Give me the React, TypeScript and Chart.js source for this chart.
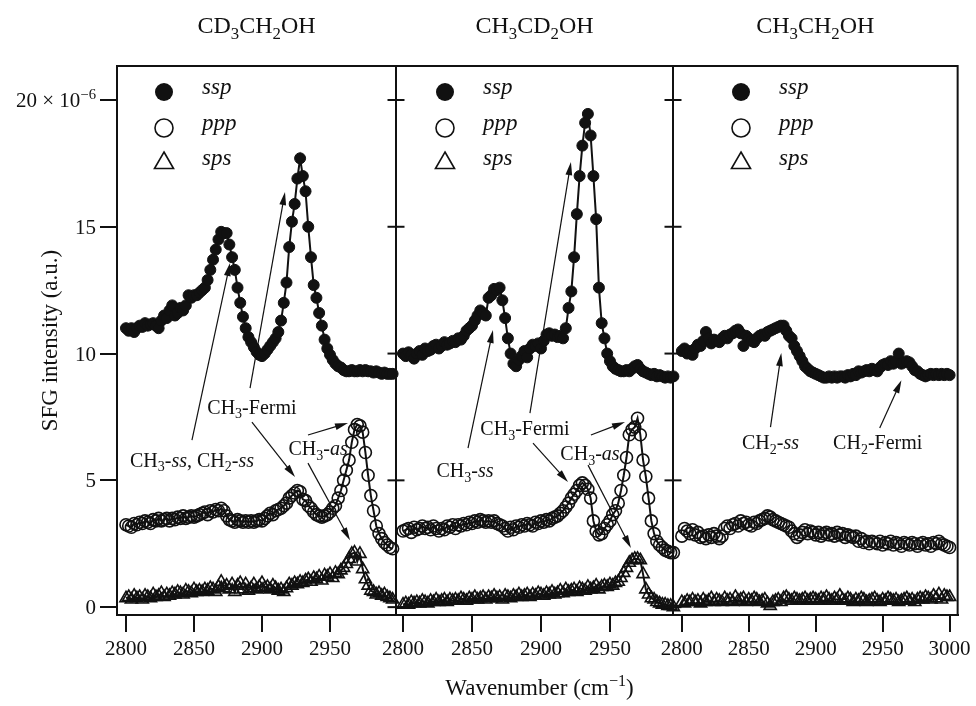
import React, { useEffect, useRef } from 'react';
import { Chart, registerables } from 'chart.js';
Chart.register(...registerables);

// ---------------- data ----------------
const WN_A = [
  2800, 2802, 2804, 2806, 2808, 2810, 2812, 2814, 2816, 2818,
  2820, 2822, 2824, 2826, 2828, 2830, 2832, 2834, 2836, 2838,
  2840, 2842, 2844, 2846, 2848, 2850, 2852, 2854, 2856, 2858,
  2860, 2862, 2864, 2866, 2868, 2870, 2872, 2874, 2876, 2878,
  2880, 2882, 2884, 2886, 2888, 2890, 2892, 2894, 2896, 2898,
  2900, 2902, 2904, 2906, 2908, 2910, 2912, 2914, 2916, 2918,
  2920, 2922, 2924, 2926, 2928, 2930, 2932, 2934, 2936, 2938,
  2940, 2942, 2944, 2946, 2948, 2950, 2952, 2954, 2956, 2958,
  2960, 2962, 2964, 2966, 2968, 2970, 2972, 2974, 2976, 2978,
  2980, 2982, 2984, 2986, 2988, 2990, 2992, 2994, 2996,
];
const WN_B = [...WN_A, 2998, 3000];

// CD3CH2OH
const P1_SSP = [
  11.0, 10.9, 11.0, 10.85, 11.0, 11.1, 11.05, 11.2, 11.1, 11.15,
  11.2, 11.1, 11.0, 11.3, 11.5, 11.4, 11.7, 11.9, 11.5, 11.6,
  11.8, 11.7, 11.9, 12.3, 12.2, 12.3, 12.3, 12.4, 12.5, 12.6,
  12.9, 13.3, 13.7, 14.1, 14.5, 14.8, 14.75, 14.75, 14.3, 13.8,
  13.3, 12.6, 12.0, 11.45, 11.0, 10.65, 10.45, 10.25, 10.07, 9.95,
  9.9, 10.0, 10.15, 10.3, 10.45, 10.6, 10.85, 11.3, 12.0, 12.8,
  14.2, 15.2, 15.9, 16.9, 17.7, 17.0, 16.4, 15.0, 13.8, 12.7,
  12.2, 11.6, 11.1, 10.55, 10.2, 9.95, 9.75, 9.6, 9.5, 9.45,
  9.35, 9.3, 9.3, 9.35, 9.3, 9.3, 9.35, 9.3, 9.35, 9.3,
  9.3, 9.25, 9.3, 9.25, 9.2, 9.25, 9.2, 9.2, 9.2,
];
const P1_PPP = [
  3.25, 3.2, 3.15, 3.3, 3.25, 3.35, 3.3, 3.4, 3.35, 3.3,
  3.45, 3.4, 3.5, 3.4, 3.45, 3.5, 3.4, 3.5, 3.45, 3.55,
  3.5, 3.6, 3.5, 3.55, 3.6, 3.55, 3.6, 3.65, 3.7, 3.75,
  3.65, 3.8, 3.75, 3.85, 3.8, 3.9, 3.8, 3.6, 3.45, 3.4,
  3.35, 3.45, 3.4, 3.35, 3.4, 3.35, 3.4, 3.35, 3.4, 3.45,
  3.4, 3.5, 3.6, 3.7, 3.65, 3.8, 3.85, 3.9, 4.0, 4.1,
  4.3, 4.4, 4.5, 4.6, 4.55, 4.25, 4.2, 4.0, 3.9, 3.75,
  3.65, 3.6, 3.55, 3.6, 3.65, 3.75, 3.9, 4.0, 4.3, 4.6,
  5.0, 5.4, 5.8, 6.5, 7.0, 7.2, 7.15, 6.9, 6.1, 5.2,
  4.4, 3.8, 3.2, 2.9, 2.7, 2.55, 2.45, 2.35, 2.3,
];
const P1_SPS = [
  0.35, 0.4, 0.3, 0.45, 0.35, 0.4, 0.3, 0.45, 0.4, 0.35,
  0.5, 0.4, 0.45, 0.55, 0.4, 0.5, 0.45, 0.55, 0.5, 0.6,
  0.55, 0.5, 0.65, 0.6, 0.55, 0.7, 0.6, 0.65, 0.6, 0.7,
  0.65, 0.75, 0.7, 0.6, 0.8, 1.0, 0.75, 0.85, 0.7, 0.9,
  0.6, 0.85, 0.95, 0.7, 0.9, 0.65, 0.75, 0.9, 0.7, 0.8,
  0.95, 0.75, 0.8, 0.7, 0.85, 0.75, 0.65, 0.7, 0.6, 0.75,
  0.9, 0.85, 0.95, 0.9, 1.0, 0.95, 1.05, 1.1, 1.0, 1.15,
  1.1, 1.2, 1.05, 1.25, 1.2, 1.3, 1.15, 1.35, 1.3, 1.45,
  1.55, 1.7, 1.9, 2.1, 2.15, 1.8, 2.1, 1.5, 1.1, 0.85,
  0.65, 0.6, 0.5, 0.55, 0.45, 0.5, 0.4, 0.35, 0.3,
];

// CH3CD2OH
const P2_SSP = [
  10.0, 9.9, 10.05, 9.95, 9.8, 10.0, 10.1, 9.95, 10.2, 10.1,
  10.15, 10.3, 10.35, 10.2, 10.3, 10.45, 10.35, 10.4, 10.5, 10.45,
  10.6, 10.55, 10.7, 10.9, 11.0, 11.1, 11.3, 11.5, 11.7, 11.6,
  11.5, 12.2, 12.3, 12.55, 12.5, 12.6, 12.1, 11.4, 10.6, 10.0,
  9.6, 9.5, 9.75, 9.9, 10.1, 9.85, 10.2, 10.35, 10.3, 10.4,
  10.2, 10.5, 10.75, 10.8, 10.7, 10.75, 10.65, 10.7, 10.6, 11.0,
  11.8, 12.45, 13.8, 15.5, 17.0, 18.2, 19.1, 19.45, 18.6, 17.0,
  15.3, 12.6, 11.2, 10.6, 10.0, 9.7, 9.5, 9.4, 9.35, 9.3,
  9.3, 9.35, 9.3, 9.4, 9.5, 9.55, 9.4, 9.3, 9.25, 9.2,
  9.15, 9.2, 9.1, 9.15, 9.1, 9.05, 9.1, 9.05, 9.1,
];
const P2_PPP = [
  3.0, 3.05, 3.1, 2.95, 3.15, 3.05, 3.1, 3.2, 3.1, 3.15,
  3.05, 3.2, 3.1, 3.0, 3.1, 3.05, 3.2, 3.15, 3.25, 3.1,
  3.25, 3.2, 3.3, 3.25, 3.35, 3.3, 3.4, 3.35, 3.45, 3.4,
  3.35, 3.4, 3.35, 3.4, 3.3, 3.25, 3.2, 3.1, 3.0, 3.15,
  3.05, 3.2, 3.15, 3.25, 3.2, 3.3, 3.25, 3.2, 3.35, 3.3,
  3.4, 3.35, 3.45, 3.4, 3.5, 3.55, 3.6, 3.7, 3.8, 3.95,
  4.1, 4.3, 4.45, 4.6, 4.8, 4.9, 4.8, 4.65, 4.3, 3.4,
  3.0, 2.85, 2.9, 3.1, 3.25, 3.4, 3.65, 3.8, 4.1, 4.6,
  5.2, 5.9, 6.8, 7.0, 7.1, 7.45, 6.8, 5.8, 5.15, 4.3,
  3.4, 2.9, 2.6, 2.45, 2.35, 2.25, 2.2, 2.15, 2.15,
];
const P2_SPS = [
  0.1, 0.15, 0.1, 0.2, 0.15, 0.2, 0.15, 0.25, 0.2, 0.15,
  0.25, 0.2, 0.3, 0.2, 0.25, 0.3, 0.2, 0.3, 0.25, 0.3,
  0.25, 0.35, 0.3, 0.25, 0.35, 0.3, 0.4, 0.3, 0.35, 0.4,
  0.3, 0.4, 0.35, 0.45, 0.35, 0.4, 0.3, 0.45, 0.4, 0.35,
  0.45, 0.4, 0.5, 0.4, 0.45, 0.5, 0.4, 0.5, 0.45, 0.55,
  0.5, 0.45, 0.55, 0.5, 0.6, 0.5, 0.55, 0.65, 0.55, 0.7,
  0.6, 0.65, 0.7, 0.6, 0.75, 0.7, 0.65, 0.8, 0.7, 0.75,
  0.85, 0.7, 0.8, 0.85, 0.8, 0.9, 0.85, 0.95, 1.0, 1.15,
  1.35, 1.55, 1.75, 1.85, 1.9, 1.9, 1.85, 1.3, 0.7, 0.5,
  0.35, 0.3, 0.2, 0.15, 0.1, 0.1, 0.05, 0.05, 0.0,
];

// CH3CH2OH
const P3_SSP = [
  10.1, 10.2, 10.0, 10.1, 9.95, 10.2, 10.35, 10.3, 10.5, 10.85,
  10.6, 10.4, 10.55, 10.5, 10.45, 10.6, 10.7, 10.6, 10.75, 10.8,
  10.9, 10.95, 10.8, 10.3, 10.7, 10.6, 10.5, 10.45, 10.6, 10.7,
  10.75, 10.7, 10.85, 10.9, 10.95, 11.0, 11.05, 11.1, 11.1, 10.9,
  10.7, 10.6, 10.3, 10.1, 9.9, 9.7, 9.5, 9.4, 9.3, 9.25,
  9.2, 9.15, 9.1, 9.05, 9.05, 9.1, 9.05, 9.1, 9.05, 9.1,
  9.1, 9.05, 9.15, 9.1, 9.2, 9.15, 9.3, 9.25, 9.3, 9.35,
  9.3, 9.4, 9.35, 9.3, 9.45, 9.55, 9.6, 9.55, 9.7, 9.6,
  9.7, 10.0, 9.6, 9.65, 9.7, 9.65, 9.5, 9.35, 9.3, 9.2,
  9.15, 9.1, 9.15, 9.2, 9.15, 9.2, 9.15, 9.2, 9.15, 9.2,
  9.15,
];
const P3_PPP = [
  2.8, 3.1, 3.0, 2.9, 3.05, 2.85, 2.95, 2.75, 2.8, 2.7,
  2.85, 2.75, 2.9, 2.8, 2.7, 2.8, 3.1, 3.2, 3.1, 3.25,
  3.3, 3.2, 3.4, 3.3, 3.35, 3.25, 3.2, 3.35, 3.3, 3.4,
  3.45, 3.5, 3.6, 3.55, 3.45, 3.4, 3.35, 3.3, 3.25, 3.2,
  3.15, 3.0, 2.9, 2.75, 2.85, 2.95, 3.05, 2.9, 3.0, 2.95,
  2.85, 2.95, 2.8, 2.9, 2.95, 2.85, 2.9, 2.8, 2.95, 2.85,
  2.9, 2.75, 2.85, 2.8, 2.75, 2.8, 2.6, 2.7, 2.55, 2.6,
  2.5, 2.6, 2.55, 2.5, 2.6, 2.45, 2.55, 2.5, 2.6, 2.45,
  2.55, 2.5, 2.4, 2.55, 2.5, 2.45, 2.55, 2.5, 2.4, 2.5,
  2.55, 2.45, 2.5, 2.4, 2.55, 2.5, 2.6, 2.5, 2.45, 2.4,
  2.35,
];
const P3_SPS = [
  0.2, 0.15, 0.25, 0.2, 0.3, 0.2, 0.25, 0.15, 0.3, 0.2,
  0.25, 0.35, 0.2, 0.3, 0.25, 0.2, 0.35, 0.25, 0.3, 0.2,
  0.4, 0.25, 0.3, 0.35, 0.2, 0.3, 0.25, 0.35, 0.3, 0.2,
  0.25, 0.3, 0.15, 0.05, 0.2, 0.25, 0.3, 0.2, 0.35, 0.4,
  0.3, 0.25, 0.35, 0.3, 0.25, 0.3, 0.35, 0.25, 0.3, 0.35,
  0.3, 0.25, 0.35, 0.3, 0.4, 0.3, 0.25, 0.35, 0.3, 0.45,
  0.3, 0.25, 0.35, 0.3, 0.2, 0.3, 0.25, 0.35, 0.3, 0.2,
  0.25, 0.3, 0.35, 0.25, 0.2, 0.3, 0.25, 0.35, 0.3, 0.25,
  0.3, 0.2, 0.25, 0.3, 0.35, 0.25, 0.3, 0.2, 0.3, 0.35,
  0.3, 0.4, 0.35, 0.3, 0.45, 0.35, 0.5, 0.3, 0.45, 0.4,
  0.4,
];

const SERIES_LABELS = ['ssp', 'ppp', 'sps'];
const X_TICKS = [2800, 2850, 2900, 2950, 3000];
const Y_TICKS = [0, 5, 10, 15, 20];
const Y_TICK_LABELS = ['0', '5', '10', '15', '20 × 10'];
const Y_TICK_TOP_EXP = '−6';
const X_RANGES = [[2793.4, 2998.5], [2794.9, 2995.7], [2793.4, 3006.0]];
const Y_RANGE = [-0.31, 21.34];

type Seg = { t: string; sub?: boolean; sup?: boolean; it?: boolean };

const TITLES: Seg[][] = [
  [{ t: 'CD' }, { t: '3', sub: true }, { t: 'CH' }, { t: '2', sub: true }, { t: 'OH' }],
  [{ t: 'CH' }, { t: '3', sub: true }, { t: 'CD' }, { t: '2', sub: true }, { t: 'OH' }],
  [{ t: 'CH' }, { t: '3', sub: true }, { t: 'CH' }, { t: '2', sub: true }, { t: 'OH' }],
];
const X_TITLE: Seg[] = [{ t: 'Wavenumber (cm' }, { t: '−1', sup: true }, { t: ')' }];
const Y_TITLE: Seg[] = [{ t: 'SFG intensity (a.u.)' }];

// annotation labels: [wavenumber, value, text]
const LABELS: { x: number; y: number; segs: Seg[] }[][] = [
  [
    { x: 2848.5, y: 5.8, segs: [{ t: 'CH' }, { t: '3', sub: true }, { t: '-' }, { t: 'ss', it: true }, { t: ', CH' }, { t: '2', sub: true }, { t: '-' }, { t: 'ss', it: true }] },
    { x: 2892.6, y: 7.89, segs: [{ t: 'CH' }, { t: '3', sub: true }, { t: '-Fermi' }] },
    { x: 2941.2, y: 6.27, segs: [{ t: 'CH' }, { t: '3', sub: true }, { t: '-' }, { t: 'as', it: true }] },
  ],
  [
    { x: 2844.9, y: 5.4, segs: [{ t: 'CH' }, { t: '3', sub: true }, { t: '-' }, { t: 'ss', it: true }] },
    { x: 2888.4, y: 7.06, segs: [{ t: 'CH' }, { t: '3', sub: true }, { t: '-Fermi' }] },
    { x: 2935.5, y: 6.07, segs: [{ t: 'CH' }, { t: '3', sub: true }, { t: '-' }, { t: 'as', it: true }] },
  ],
  [
    { x: 2866.2, y: 6.5, segs: [{ t: 'CH' }, { t: '2', sub: true }, { t: '-' }, { t: 'ss', it: true }] },
    { x: 2946.3, y: 6.5, segs: [{ t: 'CH' }, { t: '2', sub: true }, { t: '-Fermi' }] },
  ],
];
// arrows: [tail wn, tail value, head wn, head value]
const ARROWS: number[][][] = [
  [
    [2848.5, 6.59, 2876.5, 13.57],
    [2891.2, 8.64, 2916.9, 16.37],
    [2892.6, 7.3, 2924.3, 5.13],
    [2933.8, 6.79, 2963.2, 7.26],
    [2933.8, 5.68, 2964.7, 2.64],
  ],
  [
    [2847.1, 6.27, 2865.2, 10.93],
    [2892.0, 7.65, 2921.7, 17.55],
    [2894.2, 6.47, 2919.6, 4.93],
    [2936.2, 6.79, 2960.9, 7.3],
    [2934.1, 5.6, 2965.2, 2.33],
  ],
  [
    [2866.2, 7.1, 2874.3, 10.02],
    [2947.8, 7.06, 2964.0, 8.95],
  ],
];

// ---------------- layout ----------------
const W = 976;
const H = 706;
const PANEL_LEFT = [117, 396, 673];
const PANEL_RIGHT = [396, 673, 962];
const PLOT_TOP = 66;
const PLOT_BOTTOM = 615;
const LEGEND_SYM_DX = [47, 49, 68];
const LEGEND_ROWS_DY = [26, 62, 97];
const FONT = '"Liberation Serif", "Times New Roman", Times, serif';
const INK = '#111';

function drawRich(ctx: CanvasRenderingContext2D, segs: Seg[], x: number, baseline: number, size: number, align: 'left' | 'center' | 'right') {
  const parts = segs.map((s) => {
    const sz = s.sub || s.sup ? size * 0.7 : size;
    const font = `${s.it ? 'italic ' : ''}${sz}px ${FONT}`;
    ctx.font = font;
    return { s, font, w: ctx.measureText(s.t).width };
  });
  const total = parts.reduce((a, p) => a + p.w, 0);
  let cx = align === 'center' ? x - total / 2 : align === 'right' ? x - total : x;
  ctx.textAlign = 'left';
  ctx.textBaseline = 'alphabetic';
  for (const p of parts) {
    ctx.font = p.font;
    const dy = p.s.sub ? size * 0.24 : p.s.sup ? -size * 0.4 : 0;
    ctx.fillText(p.s.t, cx, baseline + dy);
    cx += p.w;
  }
}

function drawArrow(ctx: CanvasRenderingContext2D, x1: number, y1: number, x2: number, y2: number) {
  const ang = Math.atan2(y2 - y1, x2 - x1);
  const L = 13;
  const hw = 3.4;
  const bx = x2 - L * Math.cos(ang);
  const by = y2 - L * Math.sin(ang);
  ctx.beginPath();
  ctx.moveTo(x1, y1);
  ctx.lineTo(bx + 2 * Math.cos(ang), by + 2 * Math.sin(ang));
  ctx.stroke();
  ctx.beginPath();
  ctx.moveTo(x2, y2);
  ctx.lineTo(bx + hw * Math.sin(ang), by - hw * Math.cos(ang));
  ctx.lineTo(bx - hw * Math.sin(ang), by + hw * Math.cos(ang));
  ctx.closePath();
  ctx.fill();
}

function drawSymbol(ctx: CanvasRenderingContext2D, kind: number, x: number, y: number) {
  ctx.beginPath();
  if (kind === 2) {
    const r = 11;
    ctx.moveTo(x, y - r);
    ctx.lineTo(x + r * 0.866, y + r * 0.5);
    ctx.lineTo(x - r * 0.866, y + r * 0.5);
    ctx.closePath();
    ctx.lineWidth = 1.6;
    ctx.stroke();
  } else {
    ctx.arc(x, y, 9, 0, Math.PI * 2);
    if (kind === 0) ctx.fill();
    else {
      ctx.lineWidth = 1.6;
      ctx.stroke();
    }
  }
}

function makeOverlay(idx: number) {
  return {
    id: 'overlay' + idx,
    afterDraw(chart: any) {
      const ctx: CanvasRenderingContext2D = chart.ctx;
      const a = chart.chartArea;
      const xs = chart.scales.x;
      const ys = chart.scales.y;
      ctx.save();
      ctx.strokeStyle = INK;
      ctx.fillStyle = INK;
      ctx.lineWidth = 2;
      ctx.strokeRect(a.left, a.top, a.right - a.left, a.bottom - a.top);
      if (idx < 2) {
        for (const v of Y_TICKS) {
          const y = ys.getPixelForValue(v);
          ctx.beginPath();
          ctx.moveTo(a.right - 8.5, y);
          ctx.lineTo(a.right + 8.5, y);
          ctx.stroke();
        }
      }
      // legend
      for (let k = 0; k < 3; k++) {
        const sx = a.left + LEGEND_SYM_DX[idx];
        const sy = a.top + LEGEND_ROWS_DY[k];
        drawSymbol(ctx, k, sx, sy);
        ctx.font = `italic 23px ${FONT}`;
        ctx.textAlign = 'left';
        ctx.textBaseline = 'alphabetic';
        ctx.fillText(chart.data.datasets[k].label, sx + 38, sy + 2);
      }
      // annotations
      ctx.lineWidth = 1.2;
      for (const [x1, y1, x2, y2] of ARROWS[idx]) {
        drawArrow(ctx, xs.getPixelForValue(x1), ys.getPixelForValue(y1), xs.getPixelForValue(x2), ys.getPixelForValue(y2));
      }
      for (const l of LABELS[idx]) {
        drawRich(ctx, l.segs, xs.getPixelForValue(l.x), ys.getPixelForValue(l.y) + 6.6, 20, 'center');
      }
      // panel title
      drawRich(ctx, TITLES[idx], (a.left + a.right) / 2, 33, 24, 'center');
      if (idx === 0) {
        // y tick labels
        for (let i = 0; i < Y_TICKS.length; i++) {
          const y = ys.getPixelForValue(Y_TICKS[i]);
          const segs: Seg[] = i === Y_TICKS.length - 1
            ? [{ t: Y_TICK_LABELS[i] }, { t: Y_TICK_TOP_EXP, sup: true }]
            : [{ t: Y_TICK_LABELS[i] }];
          drawRich(ctx, segs, a.left - 21, y + 7, 21, 'right');
        }
        // y title
        ctx.save();
        ctx.translate(57, (a.top + a.bottom) / 2);
        ctx.rotate(-Math.PI / 2);
        drawRich(ctx, Y_TITLE, 0, 0, 23, 'center');
        ctx.restore();
      }
      if (idx === 1) {
        drawRich(ctx, X_TITLE, (PANEL_LEFT[0] + PANEL_RIGHT[2]) / 2, 695, 23, 'center');
      }
      ctx.restore();
    },
  };
}

const SERIES = [
  [P1_SSP, P1_PPP, P1_SPS],
  [P2_SSP, P2_PPP, P2_SPS],
  [P3_SSP, P3_PPP, P3_SPS],
];
const GRIDS = [WN_A, WN_A, WN_B];

function Panel({ idx }: { idx: number }) {
  const ref = useRef<HTMLCanvasElement>(null);
  useEffect(() => {
    const xsArr = GRIDS[idx];
    const showLine = idx < 2;
    const [s0, s1, s2] = SERIES[idx];
    const mk = (arr: number[]) => xsArr.map((x, i) => ({ x, y: arr[i] }));
    const [xmin, xmax] = X_RANGES[idx];
    const chart = new Chart(ref.current as HTMLCanvasElement, {
      type: 'scatter',
      data: {
        datasets: [
          {
            label: SERIES_LABELS[0], data: mk(s0), showLine, borderColor: INK, borderWidth: 2, tension: 0,
            pointStyle: 'circle', pointRadius: 5.5, pointBackgroundColor: INK, pointBorderColor: INK, pointBorderWidth: 1, clip: false,
          },
          {
            label: SERIES_LABELS[1], data: mk(s1), showLine, borderColor: INK, borderWidth: 2, tension: 0,
            pointStyle: 'circle', pointRadius: 6, pointBackgroundColor: 'rgba(0,0,0,0)', pointBorderColor: INK, pointBorderWidth: 1.6, clip: false,
          },
          {
            label: SERIES_LABELS[2], data: mk(s2), showLine, borderColor: INK, borderWidth: 2, tension: 0,
            pointStyle: 'triangle', pointRadius: 7, pointBackgroundColor: 'rgba(0,0,0,0)', pointBorderColor: INK, pointBorderWidth: 1.6, clip: false,
          },
        ] as any,
      },
      options: {
        animation: false,
        responsive: false,
        events: [],
        layout: { padding: { left: idx === 0 ? 0 : PANEL_LEFT[idx], right: W - PANEL_RIGHT[idx], top: PLOT_TOP, bottom: 0 } },
        plugins: { legend: { display: false }, tooltip: { enabled: false }, title: { display: false } },
        scales: {
          x: {
            type: 'linear', min: xmin, max: xmax,
            afterBuildTicks: (s: any) => { s.ticks = X_TICKS.filter((v) => v >= xmin && v <= xmax).map((v) => ({ value: v })); },
            ticks: { color: INK, font: { family: FONT, size: 21 }, padding: 5, maxRotation: 0, autoSkip: false, callback: (v: any) => String(v) },
            grid: { drawOnChartArea: false, drawTicks: true, tickLength: 17, color: INK, lineWidth: 2 },
            border: { display: true, color: INK, width: 2 },
            afterFit: (s: any) => { s.height = H - PLOT_BOTTOM; },
          },
          y: {
            type: 'linear', min: Y_RANGE[0], max: Y_RANGE[1], display: idx === 0,
            afterBuildTicks: (s: any) => { s.ticks = Y_TICKS.map((v) => ({ value: v })); },
            ticks: { display: false },
            grid: { drawOnChartArea: false, drawTicks: true, tickLength: 17, color: INK, lineWidth: 2 },
            border: { display: true, color: INK, width: 2 },
            afterFit: (s: any) => { if (idx === 0) s.width = PANEL_LEFT[0]; },
          },
        },
      } as any,
      plugins: [makeOverlay(idx)],
    });
    return () => chart.destroy();
  }, [idx]);
  return <canvas ref={ref} width={W} height={H} style={{ position: 'absolute', left: 0, top: 0, width: W, height: H }} />;
}

export default function App() {
  return (
    <div style={{ position: 'fixed', left: 0, top: 0, width: W, height: H, background: '#fff' }}>
      <Panel idx={0} />
      <Panel idx={1} />
      <Panel idx={2} />
    </div>
  );
}
